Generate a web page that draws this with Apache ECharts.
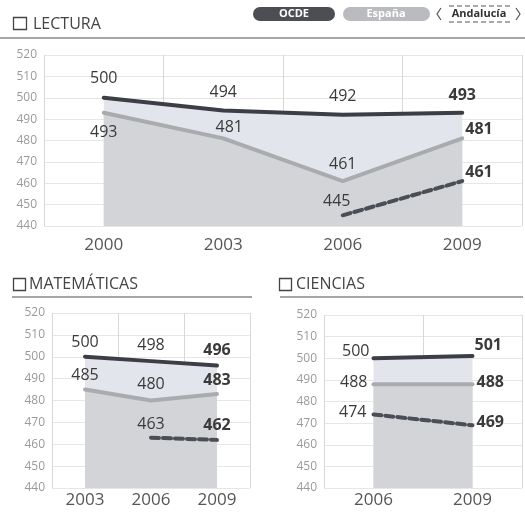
<!DOCTYPE html>
<html>
<head>
<meta charset="utf-8">
<script src="https://cdn.jsdelivr.net/npm/echarts@6/dist/echarts.min.js"></script>
<style>
  html, body { margin: 0; padding: 0; background: #fff; }
  #chart { width: 525px; height: 516px; }
</style>
</head>
<body>
<div id="chart"></div>
<script>
// datos PISA
const lecturaYears = ['2000', '2003', '2006', '2009'];
const lecturaOCDE = [500, 494, 492, 493];
const lecturaEspana = [493, 481, 461, 481];
const lecturaAndalucia = [null, null, 445, 461];

const matYears = ['2003', '2006', '2009'];
const matOCDE = [500, 498, 496];
const matEspana = [485, 480, 483];
const matAndalucia = [null, 463, 462];

const cienYears = ['2006', '2009'];
const cienOCDE = [500, 501];
const cienEspana = [488, 488];
const cienAndalucia = [474, 469];

const yMin = 440, yMax = 520, yStep = 10;

const C_OCDE = '#3b3f45', C_ESP = '#a9abaf', C_AND = '#4a4e55';

function lab(pos, dist, off, bold) {
  return {
    show: true, position: pos, distance: dist, offset: off || [0, 0],
    fontWeight: bold ? 'bold' : 'normal'
  };
}
function pts(values, labels) {
  return values.map((v, i) => v == null ? '-' : { value: v, label: labels[i] });
}
function lineSeries(idx, name, values, labels, color, dashed, area) {
  const s = {
    name, type: 'line', xAxisIndex: idx, yAxisIndex: idx,
    data: pts(values, labels),
    symbol: 'circle', symbolSize: 2, showSymbol: true,
    itemStyle: { color },
    lineStyle: { color, width: 4, type: dashed ? [8, 4] : 'solid', cap: 'round' },
    label: { fontFamily: 'Open Sans', fontSize: 16, color: '#3a3a3a' },
    z: dashed ? 4 : 3
  };
  if (area) s.areaStyle = { color: area, opacity: 1 };
  return s;
}

const grids = [
  { left: 44, top: 55, width: 478, height: 171 },
  { left: 52, top: 313, width: 198, height: 175 },
  { left: 324, top: 315, width: 198, height: 173 }
];
const cats = [lecturaYears, matYears, cienYears];
const xMargin = [11, 4, 4];

const chart = echarts.init(document.getElementById('chart'));
chart.setOption({
  animation: false,
  textStyle: { fontFamily: 'Open Sans' },
  grid: grids,
  xAxis: cats.map((c, i) => ({
    type: 'category', gridIndex: i, data: c, boundaryGap: true,
    axisLine: { show: false }, axisTick: { show: false },
    axisLabel: { color: '#555', fontSize: 17, margin: xMargin[i] },
    splitLine: { show: true, lineStyle: { color: '#d8d8d8', width: 1 } }
  })),
  yAxis: cats.map((c, i) => ({
    type: 'value', gridIndex: i, min: yMin, max: yMax, interval: yStep,
    axisLine: { show: false }, axisTick: { show: false },
    axisLabel: { color: '#9a9a9a', fontSize: 12, margin: 7 },
    splitLine: { lineStyle: { color: '#e6e6e6', width: 1 } }
  })),
  series: [
    lineSeries(0, 'OCDE', lecturaOCDE,
      [lab('top', 10), lab('top', 9), lab('top', 9), lab('top', 8, null, true)], C_OCDE, false, '#e2e5ec'),
    lineSeries(0, 'España', lecturaEspana,
      [lab('bottom', 11), lab('top', 2, [6, 0]), lab('top', 8), lab('right', 2, [0, -9], true)], C_ESP, false, '#d2d4d8'),
    lineSeries(0, 'Andalucía', lecturaAndalucia,
      [null, null, lab('top', 5, [-6, 0]), lab('right', 2, [0, -9], true)], C_AND, true),

    lineSeries(1, 'OCDE', matOCDE,
      [lab('top', 5), lab('top', 7), lab('top', 6, null, true)], C_OCDE, false, '#e2e5ec'),
    lineSeries(1, 'España', matEspana,
      [lab('top', 5), lab('top', 7), lab('top', 5, null, true)], C_ESP, false, '#d2d4d8'),
    lineSeries(1, 'Andalucía', matAndalucia,
      [null, lab('top', 4), lab('top', 5, null, true)], C_AND, true),

    lineSeries(2, 'OCDE', cienOCDE,
      [lab('left', 3, [0, -7]), lab('right', 1, [0, -11], true)], C_OCDE, false, '#e2e5ec'),
    lineSeries(2, 'España', cienEspana,
      [lab('left', 5, [0, -2]), lab('right', 3, [0, -2], true)], C_ESP, false, '#d2d4d8'),
    lineSeries(2, 'Andalucía', cienAndalucia,
      [lab('left', 6, [0, -2]), lab('right', 3, [0, -3], true)], C_AND, true)
  ],
  graphic: [
    // títulos
    { type: 'rect', shape: { x: 13.5, y: 17.5, width: 13, height: 12 }, style: { fill: 'none', stroke: '#444', lineWidth: 1.3 } },
    { type: 'text', style: { text: 'LECTURA', x: 33, y: 24, font: '16px "Open Sans"', fill: '#444', textVerticalAlign: 'middle', verticalAlign: 'middle' } },
    { type: 'line', shape: { x1: 0, y1: 38, x2: 525, y2: 38 }, style: { stroke: '#888', lineWidth: 1.5 } },

    { type: 'rect', shape: { x: 13.5, y: 278.5, width: 12, height: 12 }, style: { fill: 'none', stroke: '#444', lineWidth: 1.3 } },
    { type: 'text', style: { text: 'MATEMÁTICAS', x: 29, y: 284, font: '16px "Open Sans"', fill: '#444', textVerticalAlign: 'middle', verticalAlign: 'middle' } },
    { type: 'line', shape: { x1: 12, y1: 297, x2: 252, y2: 297 }, style: { stroke: '#888', lineWidth: 1.5 } },

    { type: 'rect', shape: { x: 279.5, y: 278.5, width: 12, height: 12 }, style: { fill: 'none', stroke: '#444', lineWidth: 1.3 } },
    { type: 'text', style: { text: 'CIENCIAS', x: 296, y: 284, font: '16px "Open Sans"', fill: '#444', textVerticalAlign: 'middle', verticalAlign: 'middle' } },
    { type: 'line', shape: { x1: 280, y1: 297, x2: 523, y2: 297 }, style: { stroke: '#888', lineWidth: 1.5 } },

    // leyenda
    { type: 'rect', shape: { x: 253, y: 7, width: 82, height: 14, r: 7 }, style: { fill: '#4b4e53' } },
    { type: 'text', style: { text: 'OCDE', x: 294, y: 14, font: 'bold 11px "Open Sans"', fill: '#fff', textAlign: 'center', align: 'center', textVerticalAlign: 'middle', verticalAlign: 'middle' } },
    { type: 'rect', shape: { x: 343, y: 7, width: 87, height: 14, r: 7 }, style: { fill: '#b9bbbe' } },
    { type: 'text', style: { text: 'España', x: 386, y: 14, font: 'bold 11px "Open Sans"', fill: '#fff', textAlign: 'center', align: 'center', textVerticalAlign: 'middle', verticalAlign: 'middle' } },
    { type: 'text', style: { text: 'Andalucía', x: 479, y: 14, font: 'bold 11px "Open Sans"', fill: '#333', textAlign: 'center', align: 'center', textVerticalAlign: 'middle', verticalAlign: 'middle' } },
    { type: 'line', shape: { x1: 449, y1: 6, x2: 510, y2: 6 }, style: { stroke: '#555', lineWidth: 1.2, lineDash: [5, 3] } },
    { type: 'line', shape: { x1: 449, y1: 22, x2: 510, y2: 22 }, style: { stroke: '#555', lineWidth: 1.2, lineDash: [5, 3] } },
    { type: 'polyline', shape: { points: [[441, 8], [437, 14], [441, 20]] }, style: { fill: 'none', stroke: '#555', lineWidth: 1.2 } },
    { type: 'polyline', shape: { points: [[516, 8], [520, 14], [516, 20]] }, style: { fill: 'none', stroke: '#555', lineWidth: 1.2 } }
  ]
});
</script>
</body>
</html>
